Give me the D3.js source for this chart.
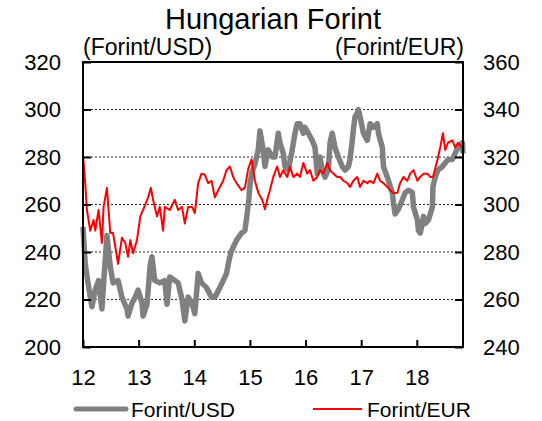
<!DOCTYPE html>
<html>
<head>
<meta charset="utf-8">
<script src="https://cdn.jsdelivr.net/npm/d3@7"></script>
<style>
  body { margin: 0; background: #fff; }
  text { font-family: "Liberation Sans", Arial, sans-serif; fill: #000; }
</style>
</head>
<body>
<div id="chart"></div>
<script>
// Forint/USD, left axis — [decimal year, value]
const usdSeries = [
  [12.00, 250.6], [12.04, 235], [12.09, 227], [12.16, 217], [12.22, 224], [12.28, 228], [12.34, 216],
  [12.38, 230], [12.43, 247], [12.49, 234], [12.54, 227], [12.63, 228], [12.70, 221], [12.79, 216],
  [12.81, 213], [12.88, 218.5], [12.94, 221], [12.99, 224], [13.06, 218.5], [13.08, 213], [13.15, 218],
  [13.21, 235], [13.24, 238], [13.29, 228], [13.38, 227], [13.47, 228], [13.51, 218], [13.56, 229.5],
  [13.65, 228], [13.71, 227], [13.78, 220], [13.83, 211], [13.89, 221], [13.96, 218.5], [14.01, 214],
  [14.07, 231], [14.13, 227], [14.22, 225], [14.31, 221], [14.37, 221], [14.46, 225], [14.52, 228],
  [14.58, 231], [14.62, 236], [14.66, 240], [14.70, 242], [14.76, 245], [14.85, 248], [14.91, 249],
  [14.95, 256], [14.98, 262], [15.00, 268], [15.03, 273], [15.09, 277], [15.15, 283], [15.18, 291],
  [15.24, 283], [15.27, 276], [15.33, 283], [15.40, 280], [15.45, 280], [15.51, 290], [15.54, 286],
  [15.60, 281.5], [15.63, 276], [15.69, 274.5], [15.76, 283], [15.81, 290], [15.85, 294], [15.90, 294],
  [15.96, 290], [15.99, 292.5], [16.05, 290], [16.12, 287], [16.17, 284], [16.21, 273], [16.26, 280],
  [16.30, 274.5], [16.35, 271.5], [16.41, 274.5], [16.44, 286], [16.48, 290], [16.53, 284], [16.59, 280],
  [16.66, 276], [16.71, 274.5], [16.77, 276], [16.80, 279], [16.84, 287], [16.86, 291.5], [16.89, 297],
  [16.93, 298.5], [16.95, 300], [16.98, 297], [17.04, 290], [17.11, 287], [17.16, 294], [17.22, 292.5],
  [17.29, 294], [17.31, 290], [17.38, 284], [17.40, 276], [17.47, 271.5], [17.49, 270], [17.56, 265],
  [17.58, 260.6], [17.61, 256], [17.67, 258], [17.74, 262], [17.79, 265], [17.85, 266], [17.92, 265],
  [17.94, 259], [18.01, 253.5], [18.03, 249], [18.06, 248], [18.10, 252], [18.12, 255], [18.15, 252],
  [18.21, 253.5], [18.28, 259], [18.29, 267.5], [18.33, 271.5], [18.38, 274.5], [18.46, 276], [18.51, 277.5],
  [18.56, 279], [18.64, 279], [18.69, 281.5], [18.74, 284], [18.82, 286], [18.83, 281.5]
];

// Forint/EUR, right axis
const eurSeries = [
  [12.00, 320.8], [12.04, 309], [12.07, 297.7], [12.13, 289], [12.19, 293.5], [12.22, 289], [12.28, 297.7],
  [12.34, 283.8], [12.37, 299], [12.43, 307], [12.46, 297.7], [12.49, 288], [12.54, 288], [12.61, 278],
  [12.63, 275], [12.70, 286], [12.76, 283.8], [12.81, 278], [12.85, 285], [12.90, 279.5], [12.97, 285],
  [13.03, 295], [13.08, 297.7], [13.17, 303], [13.22, 307], [13.26, 302], [13.33, 295], [13.38, 299],
  [13.44, 289], [13.47, 299], [13.56, 297.7], [13.65, 302], [13.71, 297.7], [13.78, 299], [13.83, 292],
  [13.89, 299], [13.96, 299], [14.01, 296.4], [14.07, 309], [14.13, 313], [14.19, 312.5], [14.25, 309],
  [14.31, 310], [14.37, 303], [14.43, 306], [14.52, 310], [14.58, 314.5], [14.64, 316], [14.70, 311.6],
  [14.76, 309], [14.85, 306], [14.91, 307], [14.97, 315], [15.03, 319], [15.09, 310], [15.15, 305],
  [15.22, 302], [15.27, 298], [15.31, 302], [15.36, 306], [15.42, 311.6], [15.49, 316], [15.54, 311.6],
  [15.60, 314.5], [15.67, 311.6], [15.72, 316], [15.78, 311.6], [15.85, 313], [15.90, 311.6], [15.96, 317.5],
  [16.03, 313], [16.08, 314.5], [16.14, 310], [16.21, 311.6], [16.26, 314.5], [16.32, 313], [16.39, 317.5],
  [16.44, 314.5], [16.50, 313], [16.57, 311.6], [16.62, 311.6], [16.68, 310], [16.75, 309], [16.80, 307.4],
  [16.86, 310], [16.93, 311.6], [16.98, 307.4], [17.04, 310], [17.11, 309], [17.16, 310], [17.22, 309],
  [17.29, 313], [17.34, 310], [17.40, 309], [17.47, 307.4], [17.52, 306], [17.58, 304.8], [17.65, 304.8],
  [17.70, 309], [17.76, 311.6], [17.83, 310], [17.88, 313], [17.94, 314.5], [18.01, 310], [18.06, 311.6],
  [18.12, 313], [18.19, 313], [18.24, 311.6], [18.29, 311.6], [18.37, 318.7], [18.42, 324], [18.47, 330],
  [18.51, 323], [18.56, 326], [18.64, 327], [18.69, 324], [18.74, 326], [18.82, 324], [18.83, 321.5]
];

const yearTicks = [12, 13, 14, 15, 16, 17, 18];
const leftTicks = [200, 220, 240, 260, 280, 300, 320];
const rightTicks = [240, 260, 280, 300, 320, 340, 360];
const gridTicks = [220, 240, 260, 280, 300];

const W = 542, H = 421;
const margin = { top: 62, right: 79, bottom: 74, left: 83 };

const svg = d3.select("#chart").append("svg")
  .attr("width", W)
  .attr("height", H);

const x = d3.scaleLinear().domain([12, 18.83]).range([margin.left, W - margin.right]);
const yL = d3.scaleLinear().domain([200, 320]).range([H - margin.bottom, margin.top]);
const yR = d3.scaleLinear().domain([240, 360]).range([H - margin.bottom, margin.top]);

// dotted gridlines
svg.append("g")
  .selectAll("line")
  .data(gridTicks)
  .enter().append("line")
  .attr("x1", x.range()[0])
  .attr("x2", x.range()[1])
  .attr("y1", d => yL(d))
  .attr("y2", d => yL(d))
  .attr("stroke", "#222")
  .attr("stroke-width", 1)
  .attr("stroke-dasharray", "2,2");

// series
const usdLine = d3.line().x(d => x(d[0])).y(d => yL(d[1]));
const eurLine = d3.line().x(d => x(d[0])).y(d => yR(d[1]));

svg.append("path")
  .datum(usdSeries)
  .attr("d", usdLine)
  .attr("fill", "none")
  .attr("stroke", "#808080")
  .attr("stroke-width", 5.5)
  .attr("stroke-linejoin", "round");

svg.append("path")
  .datum(eurSeries)
  .attr("d", eurLine)
  .attr("fill", "none")
  .attr("stroke", "#ff0000")
  .attr("stroke-width", 2)
  .attr("stroke-linejoin", "round");

// axes, ticks pointing inward
const axisFont = g => g.selectAll("text")
  .style("font-family", '"Liberation Sans", Arial, sans-serif')
  .style("font-size", "22px")
  .attr("fill", "#000");

const gL = svg.append("g")
  .attr("transform", `translate(${margin.left},0)`)
  .call(d3.axisLeft(yL).tickValues(leftTicks).tickSize(-8).tickPadding(22))
  .call(axisFont);

const gR = svg.append("g")
  .attr("transform", `translate(${W - margin.right},0)`)
  .call(d3.axisRight(yR).tickValues(rightTicks).tickSize(-8).tickPadding(20))
  .call(axisFont);

const gB = svg.append("g")
  .attr("transform", `translate(0,${H - margin.bottom})`)
  .call(d3.axisBottom(x).tickValues(yearTicks).tickSize(-7).tickPadding(22).tickFormat(d3.format("d")))
  .call(axisFont);

[gL, gR, gB].forEach(g => {
  g.select(".domain").remove();
  g.selectAll("line").attr("stroke", "#000").attr("stroke-width", 2);
});

// frame
svg.append("rect")
  .attr("x", x.range()[0])
  .attr("y", margin.top)
  .attr("width", x.range()[1] - x.range()[0])
  .attr("height", H - margin.bottom - margin.top)
  .attr("fill", "none")
  .attr("stroke", "#000")
  .attr("stroke-width", 2);

// titles
svg.append("text")
  .attr("x", (x.range()[0] + x.range()[1]) / 2)
  .attr("y", 29)
  .attr("text-anchor", "middle")
  .style("font-size", "29px")
  .text("Hungarian Forint");

svg.append("text")
  .attr("x", x.range()[0])
  .attr("y", 55)
  .style("font-size", "23px")
  .text("(Forint/USD)");

svg.append("text")
  .attr("x", x.range()[1] + 1)
  .attr("y", 55)
  .attr("text-anchor", "end")
  .style("font-size", "23px")
  .text("(Forint/EUR)");

// legend
const legendItems = [
  { label: "Forint/USD", color: "#808080", width: 5, x0: 76, x1: 126 },
  { label: "Forint/EUR", color: "#ff0000", width: 2, x0: 313, x1: 362 }
];
const legendY = 409;
const legend = svg.append("g");
legend.selectAll("line")
  .data(legendItems)
  .enter().append("line")
  .attr("x1", d => d.x0)
  .attr("x2", d => d.x1)
  .attr("y1", legendY)
  .attr("y2", legendY)
  .attr("stroke", d => d.color)
  .attr("stroke-width", d => d.width)
  .attr("stroke-linecap", d => d.width > 3 ? "round" : "butt");
legend.selectAll("text")
  .data(legendItems)
  .enter().append("text")
  .attr("x", d => d.x1 + 5)
  .attr("y", legendY + 8)
  .style("font-size", "21px")
  .text(d => d.label);
</script>
</body>
</html>
